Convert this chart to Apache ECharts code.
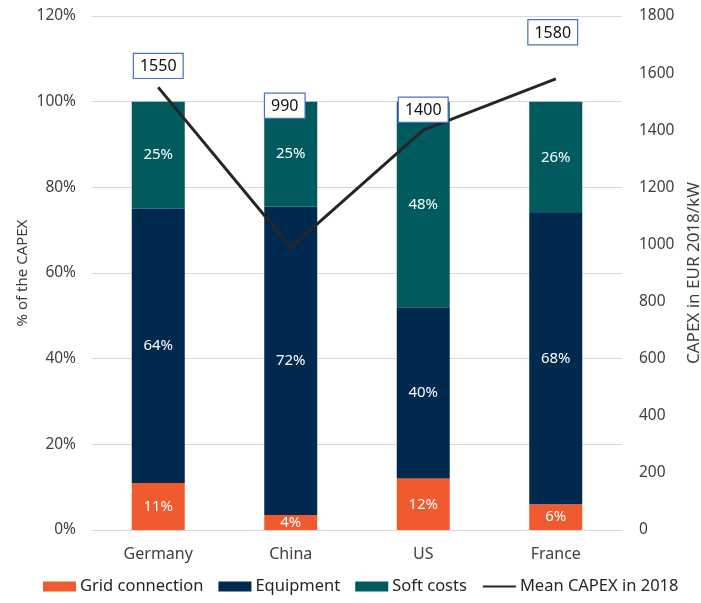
<!DOCTYPE html>
<html><head><meta charset="utf-8">
<script src="https://cdn.jsdelivr.net/npm/echarts@6/dist/echarts.min.js"></script>
<style>html,body{margin:0;padding:0;background:#fff}#c{width:701px;height:603px}</style>
</head><body><div id="c"></div>
<script>
var categories = ['Germany', 'China', 'US', 'France'];
var gridConnection = [11, 3.5, 12, 6];
var equipment = [64, 72, 40, 68];
var softCosts = [25, 24.5, 48, 26];
var meanCapex = [1550, 990, 1400, 1580];
var leftTicks = [0, 20, 40, 60, 80, 100, 120];
var rightTicks = [0, 200, 400, 600, 800, 1000, 1200, 1400, 1600, 1800];

var FONT = 'Noto Sans';
var labelShift = [[0, -4], [-6, -124], [0, -3], [-3, -29]];

var chart = echarts.init(document.getElementById('c'));
function barLabel() {
  return {show: true, position: 'inside', color: '#fff', fontSize: 15, fontFamily: FONT,
    formatter: function (p) { return Math.round(p.value) + '%'; }};
}
var option = {
  animation: false,
  grid: {left: 92, right: 79, top: 16, bottom: 73, outerBoundsMode: 'none', containLabel: false},
  legend: {
    bottom: 3, left: 38, itemWidth: 33, itemHeight: 10, itemGap: 15,
    textStyle: {fontSize: 16.5, fontFamily: FONT, color: '#262626', padding: [0, 0, 0, -1]},
    data: [{name: 'Grid connection', icon: 'rect'}, {name: 'Equipment', icon: 'rect'},
      {name: 'Soft costs', icon: 'rect'},
      {name: 'Mean CAPEX in 2018', itemStyle: {opacity: 0}}]
  },
  xAxis: {
    type: 'category', data: categories,
    axisLine: {lineStyle: {color: '#d9d9d9'}}, axisTick: {show: false},
    axisLabel: {color: '#404040', fontSize: 16, fontFamily: FONT, margin: 16}
  },
  yAxis: [{
    type: 'value', min: leftTicks[0], max: leftTicks[leftTicks.length - 1], interval: 20,
    name: '% of the CAPEX', nameLocation: 'middle', nameRotate: 90, nameGap: 62,
    nameMoveOverlap: false,
    nameTextStyle: {color: '#404040', fontSize: 15, fontFamily: FONT},
    axisLabel: {color: '#404040', fontSize: 15.5, fontFamily: FONT, margin: 16, formatter: '{value}%'},
    splitLine: {lineStyle: {color: '#d9d9d9'}}, axisLine: {show: false}, axisTick: {show: false}
  }, {
    type: 'value', min: rightTicks[0], max: rightTicks[rightTicks.length - 1], interval: 200,
    name: 'CAPEX in EUR 2018/kW', nameLocation: 'middle', nameRotate: 90, nameGap: 61,
    nameTextStyle: {color: '#404040', fontSize: 17, fontFamily: FONT},
    axisLabel: {color: '#404040', fontSize: 15.5, fontFamily: FONT, margin: 17,
      formatter: function (v) { return String(v); }},
    splitLine: {show: false}, axisLine: {show: false}, axisTick: {show: false}
  }],
  series: [
    {name: 'Grid connection', type: 'bar', stack: 's', barWidth: '40%', data: gridConnection,
      itemStyle: {color: '#EF5A2E'}, label: barLabel()},
    {name: 'Equipment', type: 'bar', stack: 's', barWidth: '40%', data: equipment,
      itemStyle: {color: '#00294F'}, label: barLabel()},
    {name: 'Soft costs', type: 'bar', stack: 's', barWidth: '40%', data: softCosts,
      itemStyle: {color: '#005A5E'}, label: barLabel()},
    {name: 'Mean CAPEX in 2018', type: 'line', yAxisIndex: 1, symbol: 'circle', symbolSize: 1,
      showSymbol: true, z: 5,
      lineStyle: {color: '#262626', width: 3}, itemStyle: {color: '#262626'},
      data: meanCapex,
      labelLayout: function (p) {
        var s = labelShift[p.dataIndex];
        return {dx: s[0], dy: s[1], hideOverlap: false};
      },
      label: {show: true, position: 'top', distance: 5, color: '#111', fontSize: 16, fontFamily: FONT,
        backgroundColor: '#fff', borderColor: '#4472C4', borderWidth: 1.2, padding: [5, 6, 3, 6]}
    }
  ]
};
chart.setOption(option);
</script></body></html>
